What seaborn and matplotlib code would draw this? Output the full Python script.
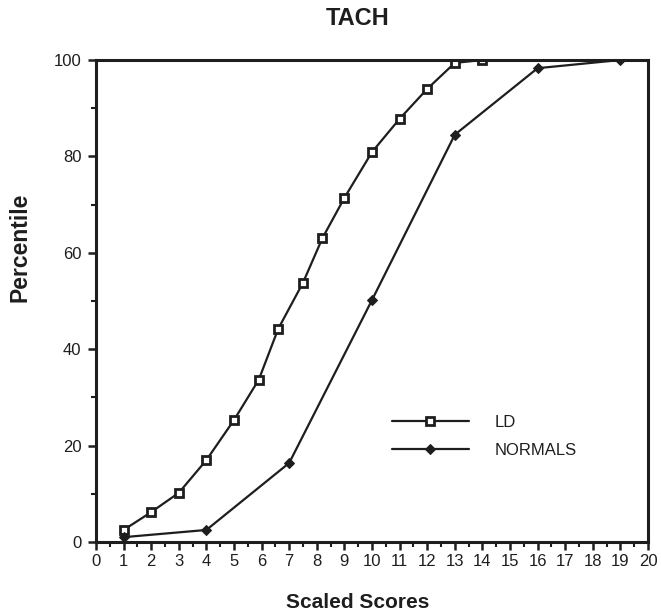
import matplotlib
matplotlib.use("Agg")
import matplotlib.pyplot as plt
import seaborn as sns
import pandas as pd
from matplotlib.ticker import MultipleLocator

ld_x = [1, 2, 3, 4, 5, 5.9, 6.6, 7.5, 8.2, 9.0, 10, 11, 12, 13, 14]
ld_y = [2.5, 6.2, 10.2, 17.0, 25.3, 33.7, 44.2, 53.8, 63.0, 71.4, 80.9, 87.8, 94.0, 99.4, 100]
norm_x = [1, 4, 7, 10, 13, 16, 19]
norm_y = [1.0, 2.5, 16.4, 50.2, 84.5, 98.3, 100]
x_ticks = list(range(0, 21))
y_ticks = [0, 20, 40, 60, 80, 100]

sns.set_theme(style="ticks")
plt.rcParams['font.family'] = ['Liberation Sans', 'DejaVu Sans']

df_ld = pd.DataFrame({"x": ld_x, "y": ld_y})
df_n = pd.DataFrame({"x": norm_x, "y": norm_y})

ink = "#1e1e1e"
fig = plt.figure(figsize=(6.61, 6.11), dpi=100)
ax = fig.add_axes([96 / 661, 1 - 542 / 611, 552 / 661, 482 / 611])

sns.lineplot(data=df_ld, x="x", y="y", ax=ax, color=ink, linewidth=1.6,
             marker="s", markersize=5.5, markerfacecolor="white",
             markeredgecolor=ink, markeredgewidth=2.0, label="LD")
sns.lineplot(data=df_n, x="x", y="y", ax=ax, color=ink, linewidth=1.6,
             marker="D", markersize=5.5, markerfacecolor=ink,
             markeredgecolor=ink, label="NORMALS")

ax.set_xlim(0, 20)
ax.set_ylim(0, 100)
ax.set_xticks(x_ticks)
ax.set_xticklabels([str(t) for t in x_ticks])
ax.set_yticks(y_ticks)
ax.xaxis.set_minor_locator(MultipleLocator(0.5))
ax.yaxis.set_minor_locator(MultipleLocator(10))
ax.tick_params(axis="both", which="major", direction="out", length=5.5, width=1.8,
               labelsize=12, colors=ink)
ax.tick_params(axis="x", which="major", pad=3)
ax.tick_params(axis="y", which="major", pad=5)
ax.tick_params(axis="both", which="minor", direction="out", length=3.5, width=1.5,
               colors=ink)
for s in ax.spines.values():
    s.set_linewidth(2.2)
    s.set_color(ink)

fig.text(358 / 661, 1 - 18.5 / 611, "TACH", ha="center", va="center",
         fontsize=17, fontweight="bold", color=ink)
ax.set_xlabel("Scaled Scores", fontsize=15, fontweight="bold", color=ink)
ax.xaxis.set_label_coords((358 - 96) / 552, (542 - 593) / 482)
ax.set_ylabel("Percentile", fontsize=16.5, fontweight="bold", color=ink)
ax.yaxis.set_label_coords((32 - 96) / 552, (542 - 247) / 482)

leg = ax.legend(loc="center left", bbox_to_anchor=((392 - 96) / 552, (542 - 436.5) / 482),
                frameon=False, handlelength=4.6, fontsize=12, labelspacing=0.75,
                handletextpad=1.55, borderaxespad=0, borderpad=0)
for t in leg.get_texts():
    t.set_color(ink)

fig.savefig("out.png", dpi=100, facecolor="white")
